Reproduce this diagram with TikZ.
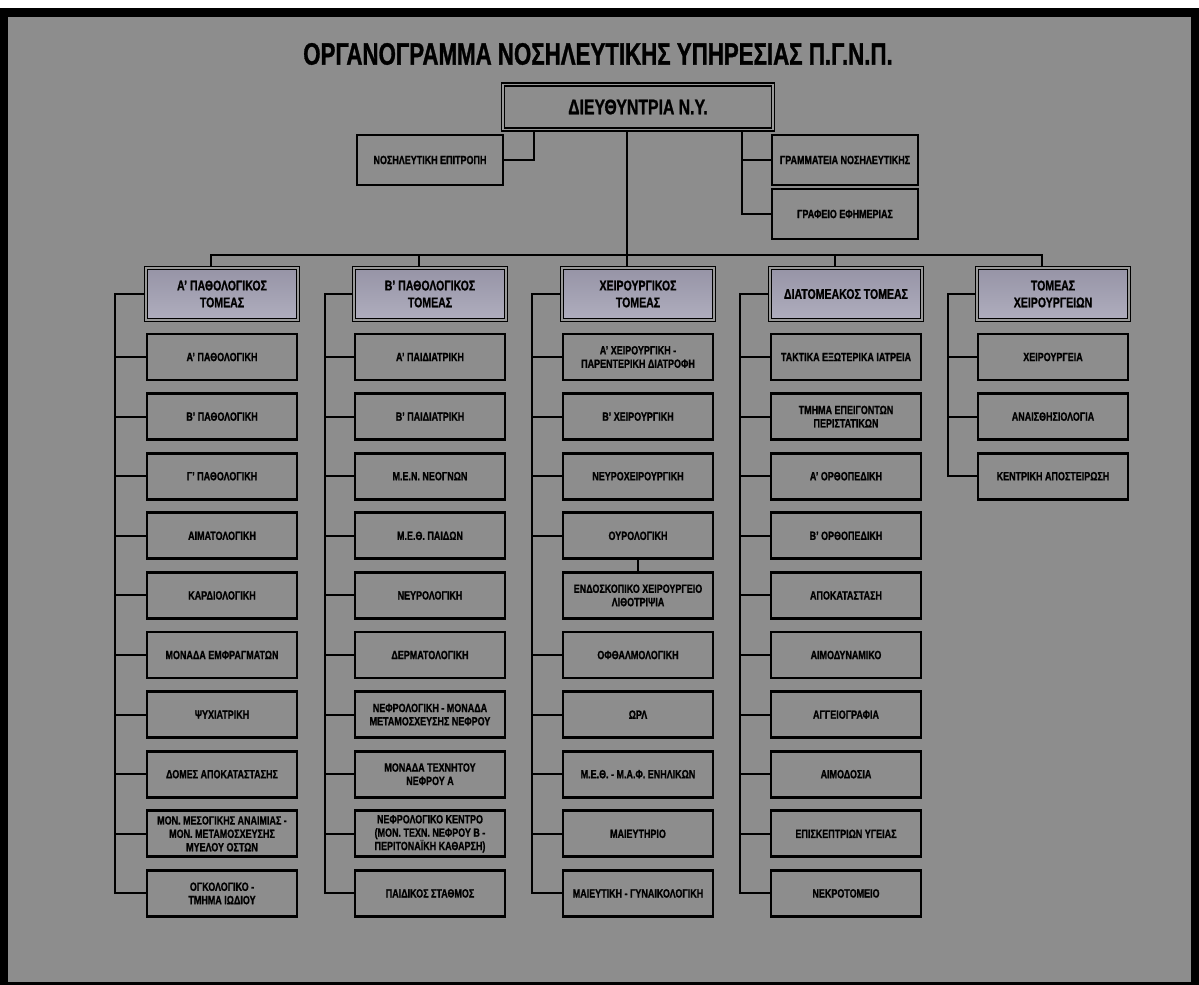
\documentclass[tikz,border=0pt]{standalone}
\usepackage{fontspec}
\setmainfont{Liberation Sans}[FakeStretch=0.75, BoldFeatures={FakeBold=1}]
\newfontfamily\titlefont{Liberation Sans}[FakeStretch=0.72, BoldFeatures={FakeBold=1}]
\usetikzlibrary{positioning}
\definecolor{bggrey}{RGB}{141,141,141}
\definecolor{sectop}{RGB}{150,148,166}
\definecolor{secbot}{RGB}{176,174,190}

\begin{document}
\begin{tikzpicture}[x=0.025cm, y=-0.025cm,
    every node/.style={font=\bfseries\fontsize{8.5}{9.5}\selectfont, align=center},
    unit/.style={draw, line width=2pt, minimum width=3.75cm, minimum height=1.15cm, inner sep=1pt},
    staff/.style={draw, line width=2pt, minimum width=3.65cm, minimum height=1.25cm, inner sep=1pt},
    head/.style={draw, line width=1.1pt, double=gray!80, double distance=1pt, minimum width=6.75cm, minimum height=1.12cm, font=\bfseries\fontsize{15}{17}\selectfont},
    sector/.style={draw, line width=1.1pt, double=gray!80, double distance=1pt, top color=sectop, bottom color=secbot, minimum width=3.8cm, minimum height=1.3cm, font=\bfseries\fontsize{10}{12}\selectfont},
    link/.style={line width=1.4pt}]

% Frame
\useasboundingbox (0,0) rectangle (1199,985);
\fill[black] (0,8) rectangle (1199,985);
\fill[bggrey] (8,17) rectangle (1191,982);

% Top
\node[font=\titlefont\bfseries\fontsize{22}{26}\selectfont] (title) at (598,54) {ΟΡΓΑΝΟΓΡΑΜΜΑ ΝΟΣΗΛΕΥΤΙΚΗΣ ΥΠΗΡΕΣΙΑΣ Π.Γ.Ν.Π.};
\node[head] (dir) at (638,107) {ΔΙΕΥΘΥΝΤΡΙΑ Ν.Υ.};
\node[staff] (ne) at (430,160) {ΝΟΣΗΛΕΥΤΙΚΗ ΕΠΙΤΡΟΠΗ};
\node[staff] (gr) at (845,160) {ΓΡΑΜΜΑΤΕΙΑ ΝΟΣΗΛΕΥΤΙΚΗΣ};
\node[staff] (ge) at (845,214) {ΓΡΑΦΕΙΟ ΕΦΗΜΕΡΙΑΣ};

\draw[link] ([xshift=0.8cm]dir.south west) |- (ne.east);
\draw[link] ([xshift=-0.8cm]dir.south east) |- (gr.west);
\draw[link] ([xshift=-0.8cm]dir.south east) |- (ge.west);

% Bus
\coordinate (busl) at (210,255);
\coordinate (busr) at (1043,255);
\draw[link] (busl) -- (busr);
\draw[link] ([xshift=-0.28cm]dir.south) -- ([xshift=-0.28cm]dir.south |- busl);

% Sectors
\node[sector] (sA) at (222,294) {Α' ΠΑΘΟΛΟΓΙΚΟΣ\\ΤΟΜΕΑΣ};
\node[sector] (sB) at (430,294) {Β' ΠΑΘΟΛΟΓΙΚΟΣ\\ΤΟΜΕΑΣ};
\node[sector] (sX) at (638,294) {ΧΕΙΡΟΥΡΓΙΚΟΣ\\ΤΟΜΕΑΣ};
\node[sector] (sD) at (846,294) {ΔΙΑΤΟΜΕΑΚΟΣ ΤΟΜΕΑΣ};
\node[sector] (sT) at (1053,294) {ΤΟΜΕΑΣ\\ΧΕΙΡΟΥΡΓΕΙΩΝ};
\foreach \s in {sA,sB,sX,sD,sT}
  \draw[link] ([xshift=-0.28cm]\s.north) -- ([xshift=-0.28cm]\s.north |- busl);

% Α' Παθολογικός
\coordinate (cA) at (115,0);
\foreach \t [count=\i] in {Α' ΠΑΘΟΛΟΓΙΚΗ, Β' ΠΑΘΟΛΟΓΙΚΗ, Γ' ΠΑΘΟΛΟΓΙΚΗ, ΑΙΜΑΤΟΛΟΓΙΚΗ, ΚΑΡΔΙΟΛΟΓΙΚΗ,
    ΜΟΝΑΔΑ ΕΜΦΡΑΓΜΑΤΩΝ, ΨΥΧΙΑΤΡΙΚΗ, ΔΟΜΕΣ ΑΠΟΚΑΤΑΣΤΑΣΗΣ,
    {ΜΟΝ. ΜΕΣΟΓΙΚΗΣ ΑΝΑΙΜΙΑΣ -\\ΜΟΝ. ΜΕΤΑΜΟΣΧΕΥΣΗΣ\\ΜΥΕΛΟΥ ΟΣΤΩΝ}, {ΟΓΚΟΛΟΓΙΚΟ -\\ΤΜΗΜΑ ΙΩΔΙΟΥ}}
  \node[unit] (A\i) at (222,{357+59.6*(\i-1)}) {\t};
\draw[link] (sA.west) -- (sA.west -| cA) -- (A10.west -| cA) -- (A10.west);
\foreach \i in {1,...,9} \draw[link] (A\i.west) -- (A\i.west -| cA);

% Β' Παθολογικός
\coordinate (cB) at (325,0);
\foreach \t [count=\i] in {Α' ΠΑΙΔΙΑΤΡΙΚΗ, Β' ΠΑΙΔΙΑΤΡΙΚΗ, Μ.Ε.Ν. ΝΕΟΓΝΩΝ, Μ.Ε.Θ. ΠΑΙΔΩΝ, ΝΕΥΡΟΛΟΓΙΚΗ,
    ΔΕΡΜΑΤΟΛΟΓΙΚΗ, {ΝΕΦΡΟΛΟΓΙΚΗ - ΜΟΝΑΔΑ\\ΜΕΤΑΜΟΣΧΕΥΣΗΣ ΝΕΦΡΟΥ}, {ΜΟΝΑΔΑ ΤΕΧΝΗΤΟΥ\\ΝΕΦΡΟΥ Α},
    {ΝΕΦΡΟΛΟΓΙΚΟ ΚΕΝΤΡΟ\\(ΜΟΝ. ΤΕΧΝ. ΝΕΦΡΟΥ Β -\\ΠΕΡΙΤΟΝΑΪΚΗ ΚΑΘΑΡΣΗ)}, ΠΑΙΔΙΚΟΣ ΣΤΑΘΜΟΣ}
  \node[unit] (B\i) at (430,{357+59.6*(\i-1)}) {\t};
\draw[link] (sB.west) -- (sB.west -| cB) -- (B10.west -| cB) -- (B10.west);
\foreach \i in {1,...,9} \draw[link] (B\i.west) -- (B\i.west -| cB);

% Χειρουργικός
\coordinate (cX) at (532,0);
\foreach \t [count=\i] in {{Α' ΧΕΙΡΟΥΡΓΙΚΗ -\\ΠΑΡΕΝΤΕΡΙΚΗ ΔΙΑΤΡΟΦΗ}, Β' ΧΕΙΡΟΥΡΓΙΚΗ, ΝΕΥΡΟΧΕΙΡΟΥΡΓΙΚΗ, ΟΥΡΟΛΟΓΙΚΗ,
    {ΕΝΔΟΣΚΟΠΙΚΟ ΧΕΙΡΟΥΡΓΕΙΟ\\ΛΙΘΟΤΡΙΨΙΑ}, ΟΦΘΑΛΜΟΛΟΓΙΚΗ, ΩΡΛ, Μ.Ε.Θ. - Μ.Α.Φ. ΕΝΗΛΙΚΩΝ, ΜΑΙΕΥΤΗΡΙΟ,
    ΜΑΙΕΥΤΙΚΗ - ΓΥΝΑΙΚΟΛΟΓΙΚΗ}
  \node[unit] (X\i) at (638,{357+59.6*(\i-1)}) {\t};
\draw[link] (sX.west) -- (sX.west -| cX) -- (X10.west -| cX) -- (X10.west);
\foreach \i in {1,2,3,4,6,7,8,9} \draw[link] (X\i.west) -- (X\i.west -| cX);
\draw[link] (X4.south) -- (X5.north);

% Διατομεακός
\coordinate (cD) at (740,0);
\foreach \t [count=\i] in {ΤΑΚΤΙΚΑ ΕΞΩΤΕΡΙΚΑ ΙΑΤΡΕΙΑ, {ΤΜΗΜΑ ΕΠΕΙΓΟΝΤΩΝ\\ΠΕΡΙΣΤΑΤΙΚΩΝ}, Α' ΟΡΘΟΠΕΔΙΚΗ,
    Β' ΟΡΘΟΠΕΔΙΚΗ, ΑΠΟΚΑΤΑΣΤΑΣΗ, ΑΙΜΟΔΥΝΑΜΙΚΟ, ΑΓΓΕΙΟΓΡΑΦΙΑ, ΑΙΜΟΔΟΣΙΑ, ΕΠΙΣΚΕΠΤΡΙΩΝ ΥΓΕΙΑΣ, ΝΕΚΡΟΤΟΜΕΙΟ}
  \node[unit] (D\i) at (846,{357+59.6*(\i-1)}) {\t};
\draw[link] (sD.west) -- (sD.west -| cD) -- (D10.west -| cD) -- (D10.west);
\foreach \i in {1,...,9} \draw[link] (D\i.west) -- (D\i.west -| cD);

% Χειρουργεία
\coordinate (cT) at (948,0);
\foreach \t [count=\i] in {ΧΕΙΡΟΥΡΓΕΙΑ, ΑΝΑΙΣΘΗΣΙΟΛΟΓΙΑ, ΚΕΝΤΡΙΚΗ ΑΠΟΣΤΕΙΡΩΣΗ}
  \node[unit] (T\i) at (1053,{357+59.6*(\i-1)}) {\t};
\draw[link] (sT.west) -- (sT.west -| cT) -- (T3.west -| cT) -- (T3.west);
\foreach \i in {1,2} \draw[link] (T\i.west) -- (T\i.west -| cT);
\end{tikzpicture}
\end{document}
